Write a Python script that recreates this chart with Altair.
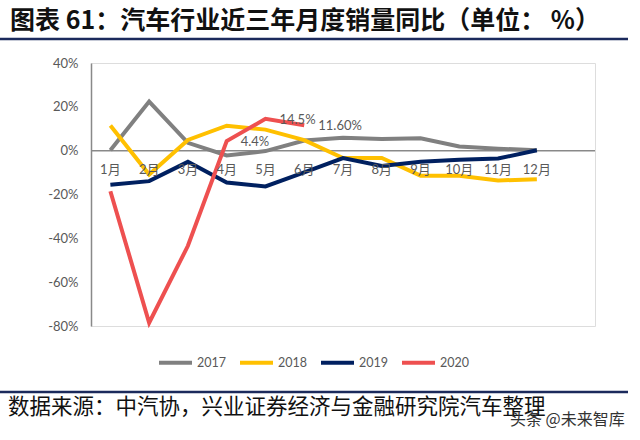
import altair as alt
import pandas as pd

# Monthly year-on-year car sales growth (%), China
months = ["1月", "2月", "3月", "4月", "5月", "6月", "7月", "8月", "9月", "10月", "11月", "12月"]
years = ["2017", "2018", "2019", "2020"]
v2017 = [0.2, 22.4, 3.6, -2.2, -0.2, 4.6, 5.9, 5.3, 5.7, 1.9, 0.9, 0.2]
v2018 = [11.5, -10.9, 4.9, 11.4, 9.6, 4.8, -3.4, -3.3, -11.4, -11.4, -13.6, -13.0]
v2019 = [-15.6, -13.9, -5.1, -14.5, -16.3, -9.9, -3.4, -7.0, -5.1, -4.1, -3.6, 0.2]
v2020 = [-18.5, -78.5, -43.4, 4.4, 14.5, 11.6]
label_text = ["4.4%", "14.5%", "11.60%"]
label_month = [4, 5, 6]
colors = ["#808080", "#FFC000", "#002060", "#EE5050"]

title_text = "图表 61：汽车行业近三年月度销量同比（单位：  %）"
source_text = "数据来源：中汽协，兴业证券经济与金融研究院汽车整理"
mark_text = "头条 @未来智库"

rows = []
for yr, vals in zip(years, [v2017, v2018, v2019, v2020]):
    for i, v in enumerate(vals):
        rows.append({"m": i + 1, "v": v, "year": yr})
df = pd.DataFrame(rows)

lab_df = pd.DataFrame({
    "m": label_month,
    "v": [v2020[m - 1] for m in label_month],
    "t": label_text,
})
month_df = pd.DataFrame({"m": list(range(1, 13)), "t": months})

W, H = 504, 263
PL, PT = 91, 63
FONT = "Lato, 'Noto Sans CJK SC', sans-serif"
CJK = "'Noto Sans CJK SC', sans-serif"
GRAY_TXT = "#595959"

xs = alt.Scale(domain=[0.5, 13.5], nice=False, zero=False)
ys = alt.Scale(domain=[-80, 40], nice=False, zero=False)

lines = alt.Chart(df).mark_line(strokeWidth=4, strokeJoin="miter").encode(
    x=alt.X("m:Q", scale=xs, axis=None),
    y=alt.Y("v:Q", scale=ys, axis=alt.Axis(
        values=[-80, -60, -40, -20, 0, 20, 40],
        labelExpr="datum.value + '%'",
        ticks=False, grid=False, title=None,
        domainColor="#898989", domainWidth=1.5,
        labelPadding=13, labelFont=FONT, labelFontSize=13, labelColor=GRAY_TXT,
    )),
    color=alt.Color("year:N", scale=alt.Scale(domain=years, range=colors),
                    legend=alt.Legend(
                        orient="none", legendX=66, legendY=281,
                        direction="horizontal", title=None,
                        symbolType="stroke", symbolSize=1089, symbolStrokeWidth=4,
                        labelFont=FONT, labelFontSize=12.5, labelColor=GRAY_TXT,
                        labelOffset=3, columnPadding=6,
                    )),
    order=alt.Order("m:Q"),
)

zero = alt.Chart(pd.DataFrame({"z": [0]})).mark_rule(
    color="#898989", strokeWidth=1.5
).encode(y=alt.Y("z:Q", scale=ys), x=alt.value(0), x2=alt.value(W))

month_labels = alt.Chart(month_df).mark_text(
    font=FONT, fontSize=13, color=GRAY_TXT, dy=19, baseline="middle"
).encode(x=alt.X("m:Q", scale=xs), y=alt.datum(0), text="t:N")

value_labels = alt.Chart(lab_df).mark_text(
    font=FONT, fontSize=13, color=GRAY_TXT, align="left", baseline="middle", dx=14, dy=1
).encode(x=alt.X("m:Q", scale=xs), y=alt.Y("v:Q", scale=ys), text="t:N")

one = pd.DataFrame({"t": [title_text]})
title = alt.Chart(one).mark_text(
    font=CJK, fontSize=25, fontWeight="bold", color="#111111",
    align="left", baseline="middle"
).encode(x=alt.value(10 - PL), y=alt.value(21 - PT), text="t:N")

top_rule = alt.Chart(one).mark_rule(color="#1B2A5C", strokeWidth=2.5).encode(
    x=alt.value(-PL), x2=alt.value(628 - PL), y=alt.value(39 - PT))
bottom_rule = alt.Chart(one).mark_rule(color="#1B2A5C", strokeWidth=2.5).encode(
    x=alt.value(-PL), x2=alt.value(628 - PL), y=alt.value(392 - PT))

source = alt.Chart(pd.DataFrame({"t": [source_text]})).mark_text(
    font=CJK, fontSize=21.5, color="#111111", align="left", baseline="middle"
).encode(x=alt.value(8 - PL), y=alt.value(408 - PT), text="t:N")

wm = alt.Chart(pd.DataFrame({"t": [mark_text]})).mark_text(
    font=CJK, fontSize=16, color="#333333", align="left", baseline="middle"
).encode(x=alt.value(510 - PL), y=alt.value(420 - PT), text="t:N")

chart = alt.layer(
    zero, lines, month_labels, value_labels,
    title, top_rule, bottom_rule, source, wm,
).properties(
    width=W, height=H,
    autosize=alt.AutoSizeParams(type="none"),
    padding={"left": PL, "top": PT, "right": 640 - PL - W, "bottom": 440 - PT - H},
).configure_view(stroke=None).configure(background="white")

chart.save("out.html", embed_options={"renderer": "svg", "actions": False})
